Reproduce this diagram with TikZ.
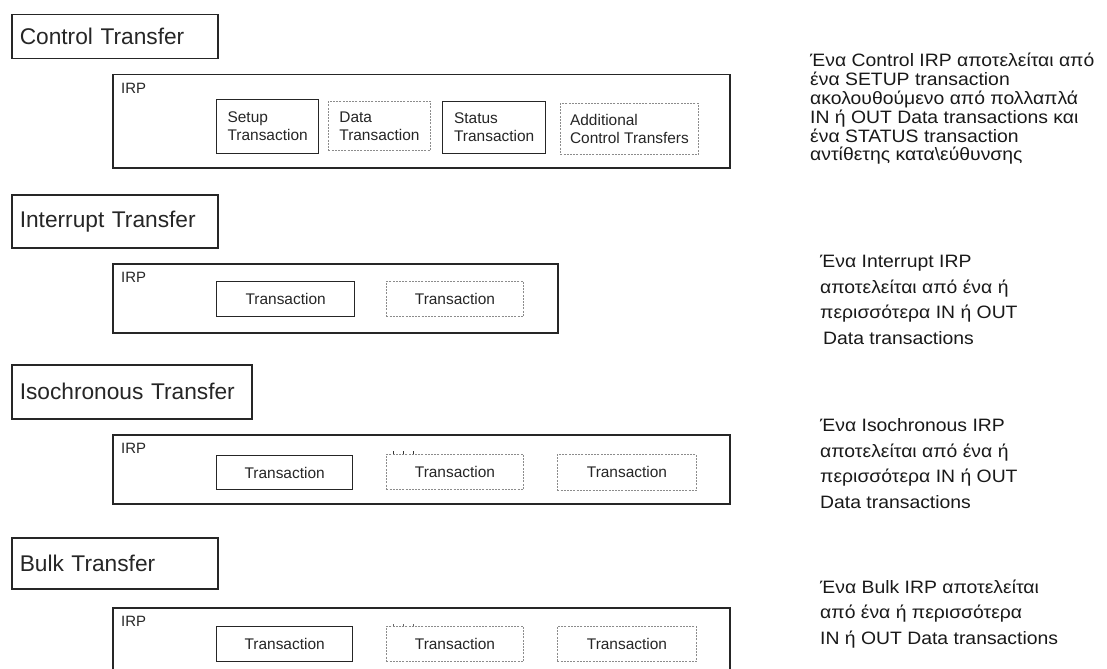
\documentclass[tikz,border=0pt]{standalone}
\usepackage{fontspec}
\setmainfont{Liberation Sans}
\newfontfamily\notefont[FakeStretch=1.08]{Liberation Sans}
\begin{document}
\begin{tikzpicture}[x=1bp,y=-1bp,
  frame/.style={draw=black!85, line width=1.5bp, inner sep=0pt},
  titlebox/.style={frame, anchor=north west, align=left, inner xsep=8bp,
    font=\fontsize{22.8}{26}\selectfont, text=black!85},
  irpbox/.style={frame, anchor=north west},
  irplabel/.style={anchor=north west, inner sep=0pt,
    font=\fontsize{15}{18}\selectfont, text=black!85},
  solidbox/.style={frame, line width=1.3bp, anchor=north west, align=left,
    font=\fontsize{15.5}{18}\selectfont, text=black!85},
  dashbox/.style={draw=black!45, line width=0.9bp, dash pattern=on 2bp off 1.2bp,
    inner sep=0pt, anchor=north west, align=left,
    font=\fontsize{15.5}{18}\selectfont, text=black!85},
  % multi-line notes are placed by the baseline of their last line
  note/.style={anchor=base west, align=left, inner sep=0pt, text=black!90},
  tick/.style={draw=black!80, line width=0.9bp}
]
\useasboundingbox (0,0) rectangle (1107,669);
\fill[white] (0,0) rectangle (1107,669);
\clip (0,0) rectangle (1107,669);

% ---------------- Control transfer ----------------
\node[titlebox, text width=190bp, minimum height=44bp] (ctT) at (11,14) {Control Transfer};
\node[irpbox, minimum width=617bp, minimum height=93bp] (ctIRP) at (112,74) {};
\node[irplabel] (ctIRPl) at (121,83.5) {IRP};
\node[solidbox, minimum width=102bp, minimum height=54bp] (ctSetup) at (216,99) {Setup\\Transaction};
\node[dashbox, minimum width=102bp, minimum height=49bp] (ctData) at (328,101) {Data\\Transaction};
\node[solidbox, minimum width=103bp, minimum height=52bp] (ctStatus) at (442,101) {Status\\Transaction};
\node[dashbox, minimum width=138bp, minimum height=51bp] (ctAdd) at (560,103) {Additional\\Control Transfers};
\node[note, font=\notefont\fontsize{18}{18.9}\selectfont] (ctNote) at (810,161)
  {Ένα Control IRP αποτελείται από\\
   ένα SETUP transaction\\
   ακολουθούμενο από πολλαπλά\\
   IN ή OUT Data transactions και\\
   ένα STATUS transaction\\
   αντίθετης κατα\textbackslash εύθυνσης};

% ---------------- Interrupt transfer ----------------
\node[titlebox, text width=190bp, minimum height=53bp] (inT) at (11,194) {Interrupt Transfer};
\node[irpbox, minimum width=445bp, minimum height=69bp] (inIRP) at (112,263) {};
\node[irplabel] (inIRPl) at (121,272.5) {IRP};
\node[solidbox, minimum width=138bp, minimum height=35bp] (inT1) at (216,281) {Transaction};
\node[dashbox, minimum width=137bp, minimum height=35bp] (inT2) at (386,281) {Transaction};
\node[note, font=\notefont\fontsize{18}{25.5}\selectfont] (inNote) at (820,344)
  {Ένα Interrupt IRP\\
   αποτελείται από ένα ή\\
   περισσότερα IN ή OUT\\
   \hspace{3bp}Data transactions};

% ---------------- Isochronous transfer ----------------
\node[titlebox, text width=224bp, minimum height=54bp] (isT) at (11,364) {Isochronous Transfer};
\node[irpbox, minimum width=617bp, minimum height=69bp] (isIRP) at (112,434) {};
\node[irplabel] (isIRPl) at (121,443.5) {IRP};
\node[solidbox, minimum width=136bp, minimum height=34bp] (isT1) at (216,455) {Transaction};
\node[dashbox, minimum width=137bp, minimum height=35bp] (isT2) at (386,454) {Transaction};
\node[dashbox, minimum width=139bp, minimum height=36bp] (isT3) at (557,454) {Transaction};
\foreach \dx in {7,17,27}
  \draw[tick] ([xshift=\dx bp]isT2.north west) -- ++(0,-3);
\node[note, font=\notefont\fontsize{18}{25.5}\selectfont] (isNote) at (820,508)
  {Ένα Isochronous IRP\\
   αποτελείται από ένα ή\\
   περισσότερα IN ή OUT\\
   Data transactions};

% ---------------- Bulk transfer ----------------
\node[titlebox, text width=190bp, minimum height=51bp] (buT) at (11,537) {Bulk Transfer};
\node[irpbox, minimum width=617bp, minimum height=72bp] (buIRP) at (112,607) {};
\node[irplabel] (buIRPl) at (121,616.5) {IRP};
\node[solidbox, minimum width=136bp, minimum height=35bp] (buT1) at (216,626) {Transaction};
\node[dashbox, minimum width=137bp, minimum height=35bp] (buT2) at (386,626) {Transaction};
\node[dashbox, minimum width=139bp, minimum height=35bp] (buT3) at (557,626) {Transaction};
\foreach \dx in {7,17,27}
  \draw[tick, draw=black!60] ([xshift=\dx bp]buT2.north west) -- ++(0,-2);
\node[note, font=\notefont\fontsize{18}{25.3}\selectfont] (buNote) at (820,644)
  {Ένα Bulk IRP αποτελείται\\
   από ένα ή περισσότερα\\
   IN ή OUT Data transactions};
\end{tikzpicture}
\end{document}
